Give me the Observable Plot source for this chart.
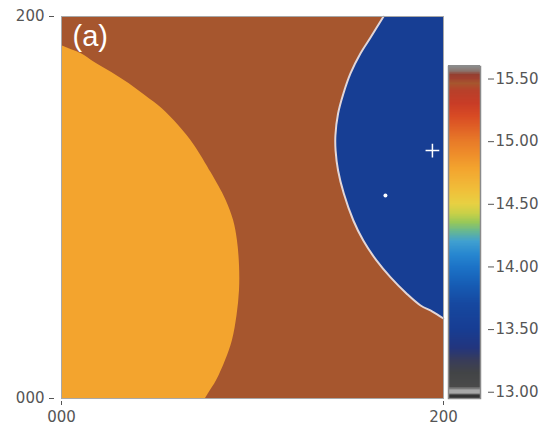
<!DOCTYPE html>
<html>
<head>
<meta charset="utf-8">
<script src="https://cdn.jsdelivr.net/npm/d3@7"></script>
<script src="https://cdn.jsdelivr.net/npm/@observablehq/plot@0.6"></script>
<style>
  html, body { margin: 0; padding: 0; background: #fff; }
  #wrap { position: relative; width: 555px; height: 432px; overflow: hidden; }
  #main { position: absolute; left: 0; top: 0; }
  #bar { position: absolute; left: 440px; top: 0; }
</style>
</head>
<body>
<div id="wrap"><div id="main"></div><div id="bar"></div></div>
<script>
// ---- data ----
const axisTicks = [0, 200];
const axisTickLabels = ["000", "200"];

// left (orange) region: right-hand boundary x for each y
const orangeY = [0, 2.6, 9.4, 19.9, 30.4, 43.5, 56.5, 69.6, 82.7, 93.2, 103.7, 111.1, 118.3, 132.5, 142.9, 151.8, 158.6, 164.9, 170.7, 175.9, 180.6, 183.8, 184.8];
const orangeX = [75.4, 77.0, 81.2, 85.9, 89.5, 91.9, 93.2, 93.2, 92.1, 90.1, 86.2, 82.4, 78.3, 69.6, 61.3, 52.6, 43.8, 35.3, 26.3, 17.4, 10.2, 2.3, 0];

// right (blue) region: left-hand boundary x for each y
const blueY = [41.9, 45.5, 48.7, 55.0, 63.4, 72.3, 82.7, 93.2, 107.3, 119.4, 129.8, 137.7, 149.2, 159.7, 170.2, 180.6, 189.0, 200];
const blueX = [200, 194.2, 188.0, 180.6, 172.3, 164.9, 158.0, 152.8, 147.8, 144.8, 143.5, 143.4, 144.8, 147.6, 151.3, 156.5, 161.8, 168.6];

// values of the three zones (colour-bar units)
const backgroundValue = 15.46;
const orangeValue = 14.78;
const blueValue = 13.52;

// small white markers inside the blue zone
const plusMarks = [{x: 194.2, y: 129.8}];
const dotMarks = [{x: 169.6, y: 106.3}];

// colour bar
const barTicks = [13.0, 13.5, 14.0, 14.5, 15.0, 15.5];
const barDomain = [12.95, 15.6];
const stopValues = [12.95, 12.97, 12.99, 13.01, 13.04, 13.15, 13.25, 13.35, 13.5, 13.7, 13.85, 14.0, 14.1, 14.2, 14.28, 14.35, 14.42, 14.5, 14.6, 14.7, 14.78, 14.9, 15.0, 15.1, 15.2, 15.3, 15.4, 15.46, 15.5, 15.53, 15.56, 15.6];
const stopColors = ["#2e2e2e", "#383838", "#a8a8a8", "#a8a8a8", "#4a4a4a", "#424446", "#383c5a", "#22357e", "#173d93", "#1648a0", "#165cb4", "#1c74c8", "#2888d0", "#40a0d0", "#68b890", "#98c858", "#c8d048", "#e8d042", "#f0c03a", "#f2b034", "#f3a42e", "#ee8c2a", "#e87a28", "#e06226", "#d84a24", "#c83c26", "#b8402a", "#a6562e", "#a04030", "#943f30", "#8a7670", "#8c8c8c"];

// ---- build ----
const orange = orangeY.map((y, i) => ({y, x: orangeX[i]}));
const blue = blueY.map((y, i) => ({y, x: blueX[i]}));
const background = [{x1: 0, x2: 200, y1: 0, y2: 200, v: backgroundValue}];

const colorScale = {type: "linear", domain: stopValues, range: stopColors, clamp: true};
const font = {fontFamily: "DejaVu Sans, sans-serif", fontSize: "15px", color: "#555", background: "transparent", overflow: "visible"};

const main = Plot.plot({
  width: 470, height: 432,
  marginLeft: 61, marginRight: 27, marginTop: 16, marginBottom: 34,
  x: {domain: [0, 200]},
  y: {domain: [0, 200]},
  color: colorScale,
  style: font,
  marks: [
    Plot.rect(background, {x1: "x1", x2: "x2", y1: "y1", y2: "y2", fill: "v"}),
    Plot.areaX(orange, {y: "y", x1: 0, x2: "x", fill: () => orangeValue, curve: "catmull-rom"}),
    Plot.areaX(blue, {y: "y", x1: "x", x2: 200, fill: () => blueValue, curve: "catmull-rom"}),
    Plot.line(blue, {x: "x", y: "y", stroke: "#e4d6d6", strokeWidth: 2, curve: "catmull-rom"}),
    Plot.dot(plusMarks, {x: "x", y: "y", symbol: "plus", r: 4.5, stroke: "white", strokeWidth: 1.5}),
    Plot.dot(dotMarks, {x: "x", y: "y", r: 2, fill: "white"}),
    Plot.text(["(a)"], {x: 5.8, y: 189.5, text: d => d, textAnchor: "start", lineAnchor: "middle", fill: "white", fontSize: 29, fontFamily: "Liberation Sans, Arial, sans-serif"}),
    Plot.frame({stroke: "#a8a8a8", strokeWidth: 1}),
    Plot.axisX({ticks: axisTicks, tickFormat: (d, i) => axisTickLabels[i], tickSize: 4, dy: 3, tickPadding: 6, label: null}),
    Plot.axisY({ticks: axisTicks, tickFormat: (d, i) => axisTickLabels[i], tickSize: 5, dx: -7, tickPadding: 5, label: null})
  ]
});
document.getElementById("main").append(main);

const step = 0.005;
const ramp = d3.range(barDomain[0], barDomain[1], step);
const bar = Plot.plot({
  width: 115, height: 432,
  marginLeft: 8, marginRight: 75, marginTop: 66, marginBottom: 34,
  x: {domain: [0, 1], axis: null},
  y: {domain: barDomain},
  color: colorScale,
  style: font,
  marks: [
    Plot.rect(ramp, {x1: 0, x2: 1, y1: d => d, y2: d => d + step * 1.6, fill: d => d, shapeRendering: "crispEdges"}),
    Plot.frame({stroke: "#8a8a8a", strokeWidth: 1.5}),
    Plot.axisY({anchor: "right", ticks: barTicks, tickFormat: d3.format(".2f"), tickSize: 6, dx: 7, tickPadding: 2, label: null})
  ]
});
document.getElementById("bar").append(bar);
</script>
</body>
</html>
